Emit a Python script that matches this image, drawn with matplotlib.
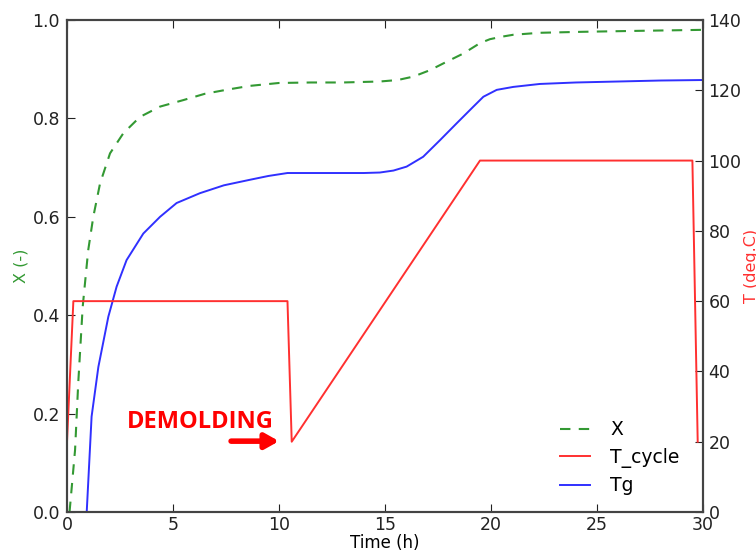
import matplotlib
matplotlib.use("Agg")
import matplotlib.pyplot as plt

# Conversion X(t)
t_x = [0.12, 0.38, 0.53, 0.74, 1.0, 1.24, 1.56, 2.03, 2.66, 3.44, 4.39, 5.47, 6.5, 7.5, 8.6,
       10.0, 11.5, 13.0, 14.76, 15.6, 16.34, 17.12, 17.9, 18.7, 19.48, 19.95, 20.5, 21.05,
       22.3, 24.3, 27.0, 30.0]
x_val = [0.0, 0.126, 0.262, 0.417, 0.532, 0.60, 0.668, 0.729, 0.77, 0.803, 0.824, 0.837, 0.85,
         0.858, 0.866, 0.872, 0.873, 0.873, 0.875, 0.878, 0.885, 0.898, 0.915, 0.932, 0.953,
         0.961, 0.966, 0.970, 0.974, 0.976, 0.978, 0.98]

# Temperature cycle
t_T = [0.0, 0.3, 10.4, 10.6, 19.48, 29.5, 29.75]
T_val = [20, 60, 60, 20, 100, 100, 20]

# Tg (normalised)
t_tg = [0.93, 1.16, 1.48, 1.95, 2.34, 2.81, 3.6, 4.39, 5.17, 6.27, 7.4, 8.6, 9.5, 10.4, 12.0,
        14.0, 14.76, 15.4, 16.02, 16.8, 17.6, 18.38, 19.17, 19.64, 20.27, 21.05, 22.3, 24.0,
        26.0, 28.0, 30.0]
tg_val = [0.0, 0.194, 0.295, 0.397, 0.458, 0.512, 0.566, 0.60, 0.628, 0.648, 0.664, 0.675,
          0.683, 0.689, 0.689, 0.689, 0.69, 0.694, 0.702, 0.722, 0.756, 0.79, 0.824, 0.844,
          0.858, 0.864, 0.870, 0.873, 0.875, 0.877, 0.878]

fig = plt.figure(figsize=(7.56, 5.52), dpi=100)
ax = fig.add_axes([67/756, 1-512/552, (703-67)/756, (512-20)/552])
ax2 = ax.twinx()

green = '#339933'
red = '#ff3030'
blue = '#3030ff'

l1, = ax.plot(t_x, x_val, '--', color=green, lw=1.5, dashes=(5, 4), label='X')
l3, = ax.plot(t_tg, tg_val, '-', color=blue, lw=1.4, label='Tg')
l2, = ax2.plot(t_T, T_val, '-', color=red, lw=1.4, label='T_cycle')

ax.set_xlim(0, 30)
ax.set_ylim(0, 1.0)
ax2.set_ylim(0, 140)
ax.set_xticks([0, 5, 10, 15, 20, 25, 30])
ax.set_yticks([0.0, 0.2, 0.4, 0.6, 0.8, 1.0])
ax2.set_yticks([0, 20, 40, 60, 80, 100, 120, 140])

for a in (ax, ax2):
    for s in a.spines.values():
        s.set_color('#444444')
        s.set_linewidth(1.5)
ax.tick_params(axis='both', direction='in', length=6, labelsize=12.5, colors='#222222',
               top=True, pad=5)
ax.tick_params(axis='x', pad=3)
ax2.tick_params(axis='y', direction='in', length=6, labelsize=12.5, colors='#222222', pad=4)
ax.yaxis.set_major_formatter(matplotlib.ticker.FormatStrFormatter('%.1f'))

ax.set_xlabel('Time (h)', fontsize=12, labelpad=0)
ax.set_ylabel('X (-)', fontsize=11.5, color=green, labelpad=3)
ax2.set_ylabel('T (deg.C)', fontsize=11.5, color=red, labelpad=2)

ax.legend([l1, l2, l3], ['X', 'T_cycle', 'Tg'], loc='lower right', frameon=False,
          fontsize=13.5, handlelength=1.6, handletextpad=1.1, bbox_to_anchor=(0.99, 0.0),
          labelspacing=0.45)

ax.annotate('', xy=(10.0, 0.144), xytext=(7.74, 0.144),
            arrowprops=dict(arrowstyle='-|>,head_length=0.8,head_width=0.45', color='red', lw=4,
                            shrinkA=0, shrinkB=0))
ax.text(6.27, 0.183, 'DEMOLDING', color='red', fontsize=17, fontweight='bold',
        family='Open Sans', ha='center', va='center')

fig.savefig('out.png', dpi=100)
